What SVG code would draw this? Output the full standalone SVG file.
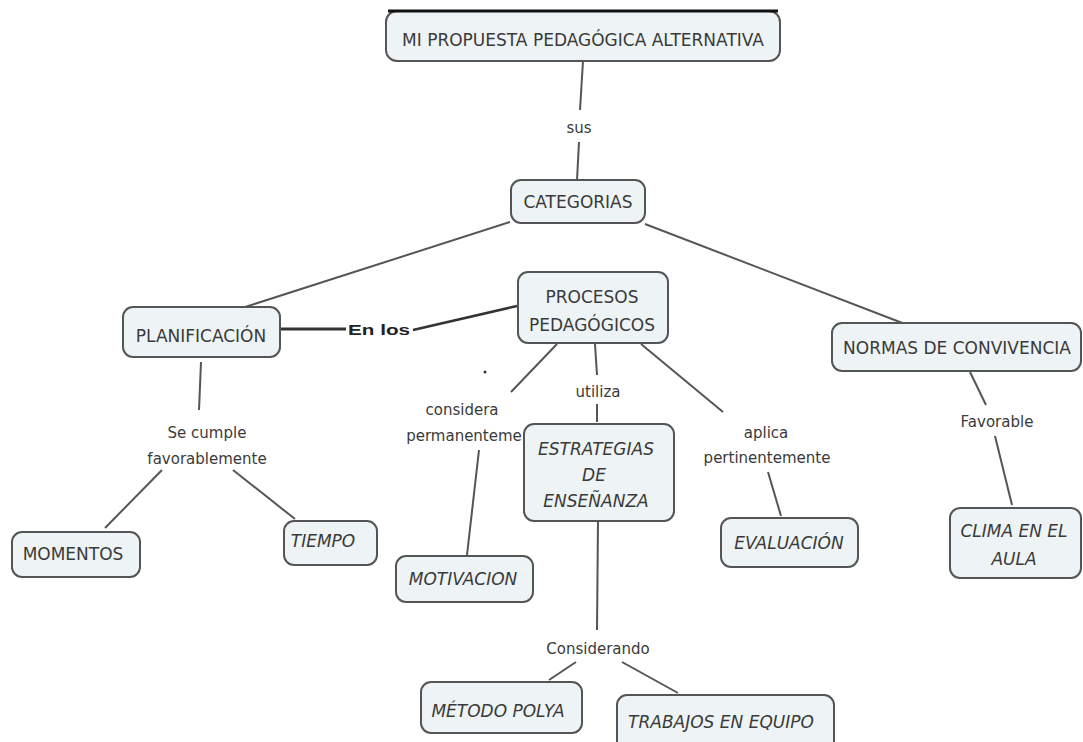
<svg xmlns="http://www.w3.org/2000/svg" width="1083" height="742" viewBox="0 0 1083 742">
<style>
.n rect{fill:#eef3f5;stroke:#555;stroke-width:2}
text{font-family:"DejaVu Sans",Verdana,sans-serif;fill:#3a3a3a;font-size:17px;text-anchor:middle}
.i{font-style:italic}
.c line{stroke:#555;stroke-width:2}
.lb{font-size:15px}
</style>
<rect width="1083" height="742" fill="#fff"/>
<g class="c" id="connectors">
<line x1="583" y1="61" x2="580" y2="110"/>
<line x1="579" y1="142" x2="577" y2="180"/>
<line x1="510" y1="222" x2="245" y2="307"/>
<line x1="645" y1="224" x2="905" y2="324"/>
<line x1="280" y1="329" x2="346" y2="329" style="stroke:#333;stroke-width:3"/>
<line x1="413" y1="330" x2="517" y2="306" style="stroke:#333;stroke-width:2.5"/>
<line x1="557" y1="344" x2="511" y2="392"/>
<line x1="595" y1="344" x2="597" y2="375"/>
<line x1="597" y1="404" x2="597" y2="422"/>
<line x1="641" y1="344" x2="723" y2="412"/>
<line x1="479" y1="450" x2="467" y2="555"/>
<line x1="768" y1="472" x2="781" y2="516"/>
<line x1="598" y1="521" x2="597" y2="630"/>
<line x1="576" y1="662" x2="549" y2="680"/>
<line x1="622" y1="662" x2="678" y2="693"/>
<line x1="201" y1="362" x2="199" y2="410"/>
<line x1="162" y1="470" x2="105" y2="528"/>
<line x1="233" y1="470" x2="295" y2="519"/>
<line x1="970" y1="372" x2="986" y2="405"/>
<line x1="995" y1="436" x2="1012" y2="505"/>
<text x="579" y="133" class="lb">sus</text>
<text x="379" y="335" textLength="62" lengthAdjust="spacingAndGlyphs" style="font-family:'Liberation Sans',Arial,sans-serif;font-weight:bold;font-size:15px;fill:#222">En los</text>
<circle cx="485" cy="372" r="1.5" fill="#333" stroke="none"/>
<text x="462" y="415" class="lb">considera</text>
<text x="464" y="441" class="lb">permanenteme</text>
<text x="598" y="397" class="lb">utiliza</text>
<text x="766" y="438" class="lb">aplica</text>
<text x="767" y="463" class="lb">pertinentemente</text>
<text x="598" y="654" class="lb">Considerando</text>
<text x="207" y="438" class="lb">Se cumple</text>
<text x="207" y="464" class="lb">favorablemente</text>
<text x="997" y="427" class="lb">Favorable</text>
</g>
<g class="n" id="n-main"><rect x="386" y="11" width="394" height="50" rx="11"/><line x1="388" y1="11" x2="778" y2="11" stroke="#111" stroke-width="3"/><text x="583" y="46">MI PROPUESTA PEDAGÓGICA ALTERNATIVA</text></g>
<g class="n" id="n-categorias"><rect x="511" y="180" width="134" height="43" rx="10"/><text x="578" y="208">CATEGORIAS</text></g>
<g class="n" id="n-planificacion"><rect x="123" y="307" width="157" height="50" rx="10"/><text x="201" y="342">PLANIFICACIÓN</text></g>
<g class="n" id="n-procesos"><rect x="518" y="272" width="150" height="71" rx="10"/><text x="592" y="303">PROCESOS</text><text x="592" y="331">PEDAGÓGICOS</text></g>
<g class="n" id="n-normas"><rect x="832" y="323" width="249" height="48" rx="10"/><text x="957" y="354">NORMAS DE CONVIVENCIA</text></g>
<g class="n" id="n-estrategias"><rect x="524" y="424" width="150" height="97" rx="10"/><text class="i" x="596" y="455">ESTRATEGIAS</text><text class="i" x="594" y="481">DE</text><text class="i" x="596" y="507">ENSEÑANZA</text></g>
<g class="n" id="n-motivacion"><rect x="396" y="556" width="137" height="46" rx="10"/><text class="i" x="463" y="585">MOTIVACION</text></g>
<g class="n" id="n-evaluacion"><rect x="721" y="518" width="137" height="49" rx="10"/><text class="i" x="789" y="549">EVALUACIÓN</text></g>
<g class="n" id="n-momentos"><rect x="12" y="532" width="128" height="45" rx="10"/><text x="73" y="560">MOMENTOS</text></g>
<g class="n" id="n-tiempo"><rect x="284" y="521" width="93" height="44" rx="10"/><text class="i" x="323" y="547">TIEMPO</text></g>
<g class="n" id="n-clima"><rect x="950" y="508" width="131" height="70" rx="10"/><text class="i" x="1014" y="537">CLIMA EN EL</text><text class="i" x="1014" y="565">AULA</text></g>
<g class="n" id="n-polya"><rect x="421" y="682" width="161" height="51" rx="10"/><text class="i" x="498" y="717">MÉTODO POLYA</text></g>
<g class="n" id="n-trabajos"><rect x="617" y="695" width="217" height="60" rx="10"/><text class="i" x="721" y="728">TRABAJOS EN EQUIPO</text></g>
</svg>
